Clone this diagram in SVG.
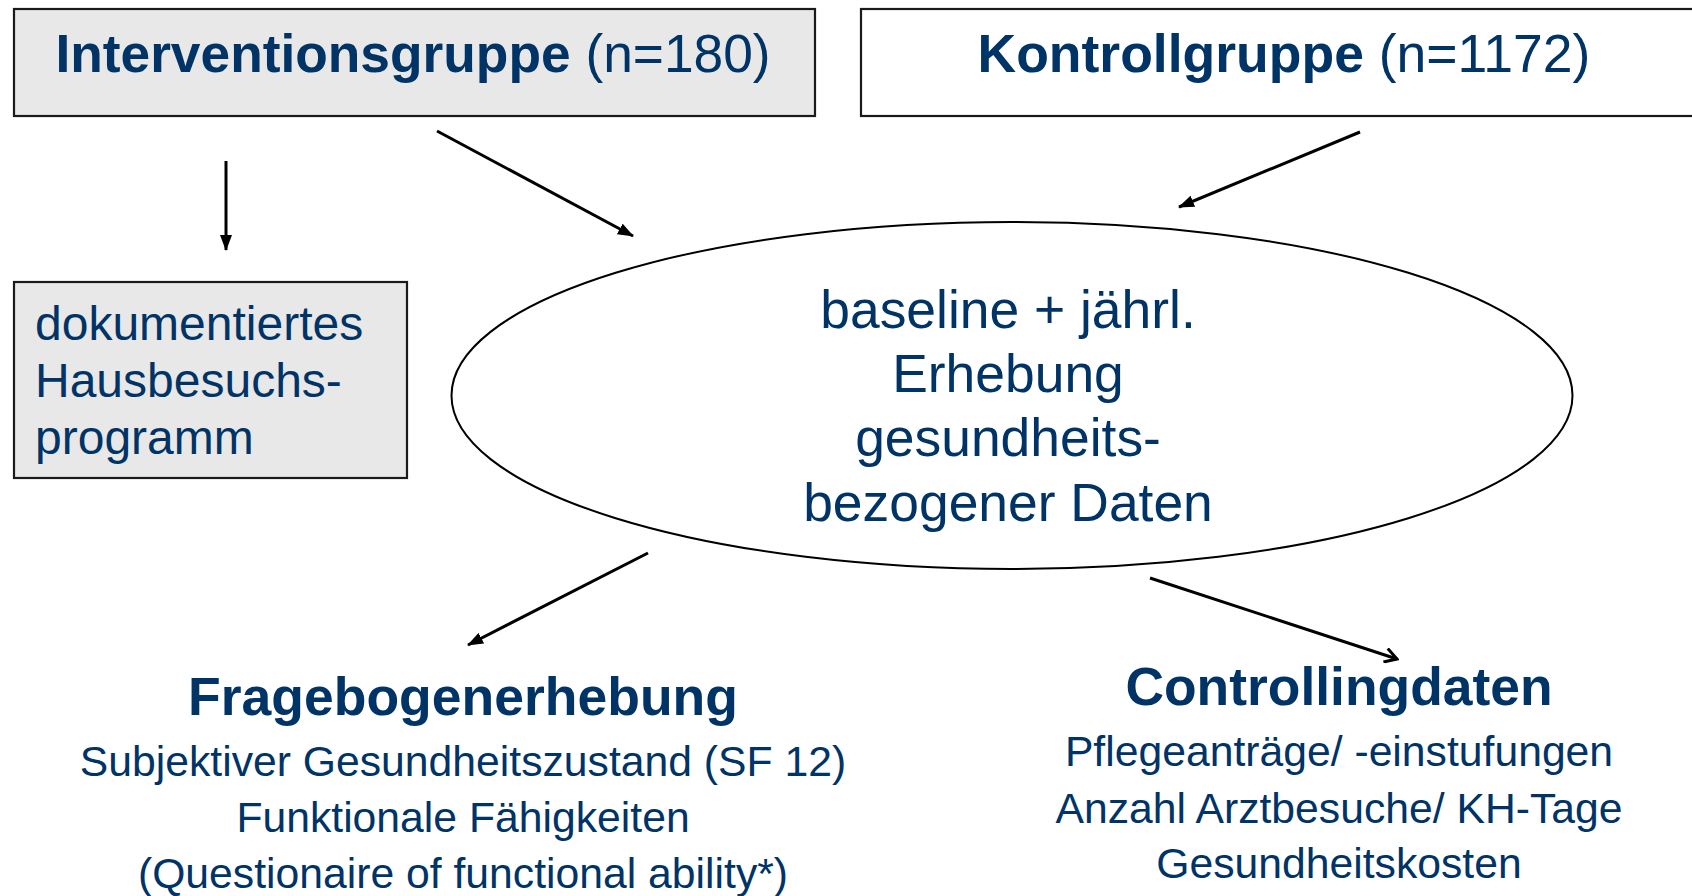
<svg xmlns="http://www.w3.org/2000/svg" width="1692" height="896" viewBox="0 0 1692 896">
<style>
text{font-family:"Liberation Sans",Arial,sans-serif;fill:#003366}
.b{font-weight:bold}
.box{stroke:#1a1a1a;stroke-width:2.2}
.grey{fill:#e8e8e8}
.white{fill:#ffffff}
.con{stroke:#000;stroke-width:3;fill:none}
.sub{font-size:42.7px}
</style>
<defs>
<marker id="tri" markerUnits="userSpaceOnUse" viewBox="0 0 16 12" refX="15" refY="6" markerWidth="16" markerHeight="12" orient="auto">
<path d="M0,0 L16,6 L0,12 Z" fill="#000"/>
</marker>
<marker id="open" markerUnits="userSpaceOnUse" viewBox="0 0 16 16" refX="14" refY="8" markerWidth="16" markerHeight="16" orient="auto">
<path d="M2,1 L14,8 L2,15" fill="none" stroke="#000" stroke-width="3"/>
</marker>
</defs>
<rect width="1692" height="896" fill="#fff"/>
<g id="interventionsgruppe">
<rect class="box grey" x="14" y="9" width="801" height="107"/>
<text x="413" y="72" font-size="53.3" text-anchor="middle"><tspan class="b">Interventionsgruppe</tspan> (n=180)</text>
</g>
<g id="kontrollgruppe">
<rect class="box white" x="861" y="9" width="840" height="107"/>
<text x="1284" y="72" font-size="53.5" text-anchor="middle"><tspan class="b">Kontrollgruppe</tspan> (n=1172)</text>
</g>
<g id="hausbesuchsprogramm">
<rect class="box grey" x="14" y="282" width="393" height="196"/>
<text x="35" y="340" font-size="48">dokumentiertes</text>
<text x="35" y="397" font-size="48">Hausbesuchs-</text>
<text x="35" y="454" font-size="48">programm</text>
</g>
<g id="erhebung">
<ellipse cx="1012" cy="395.5" rx="560.5" ry="173.5" fill="#fff" stroke="#000" stroke-width="2"/>
<text x="1008" y="328" font-size="53.4" text-anchor="middle">baseline + jährl.</text>
<text x="1008" y="392" font-size="53.4" text-anchor="middle">Erhebung</text>
<text x="1008" y="456" font-size="53.4" text-anchor="middle">gesundheits-</text>
<text x="1008" y="521" font-size="53.4" text-anchor="middle">bezogener Daten</text>
</g>
<g id="fragebogenerhebung">
<text class="b" x="463" y="715" font-size="53.5" text-anchor="middle">Fragebogenerhebung</text>
<text class="sub" x="463" y="776" text-anchor="middle">Subjektiver Gesundheitszustand (SF 12)</text>
<text class="sub" x="463" y="832" text-anchor="middle">Funktionale Fähigkeiten</text>
<text class="sub" x="463" y="888" text-anchor="middle">(Questionaire of functional ability*)</text>
</g>
<g id="controllingdaten">
<text class="b" x="1339" y="705" font-size="53.4" text-anchor="middle">Controllingdaten</text>
<text class="sub" x="1339" y="766" text-anchor="middle">Pflegeanträge/ -einstufungen</text>
<text class="sub" x="1339" y="823" text-anchor="middle">Anzahl Arztbesuche/ KH-Tage</text>
<text class="sub" x="1339" y="878" text-anchor="middle">Gesundheitskosten</text>
</g>
<g id="connectors">
<line class="con" x1="226" y1="161" x2="226" y2="250" marker-end="url(#tri)"/>
<line class="con" x1="437" y1="131" x2="633" y2="236" marker-end="url(#tri)"/>
<line class="con" x1="1360" y1="132" x2="1179" y2="207" marker-end="url(#tri)"/>
<line class="con" x1="648" y1="553" x2="468" y2="645" marker-end="url(#tri)"/>
<line class="con" x1="1150" y1="578" x2="1397" y2="659" marker-end="url(#open)"/>
</g>
</svg>
